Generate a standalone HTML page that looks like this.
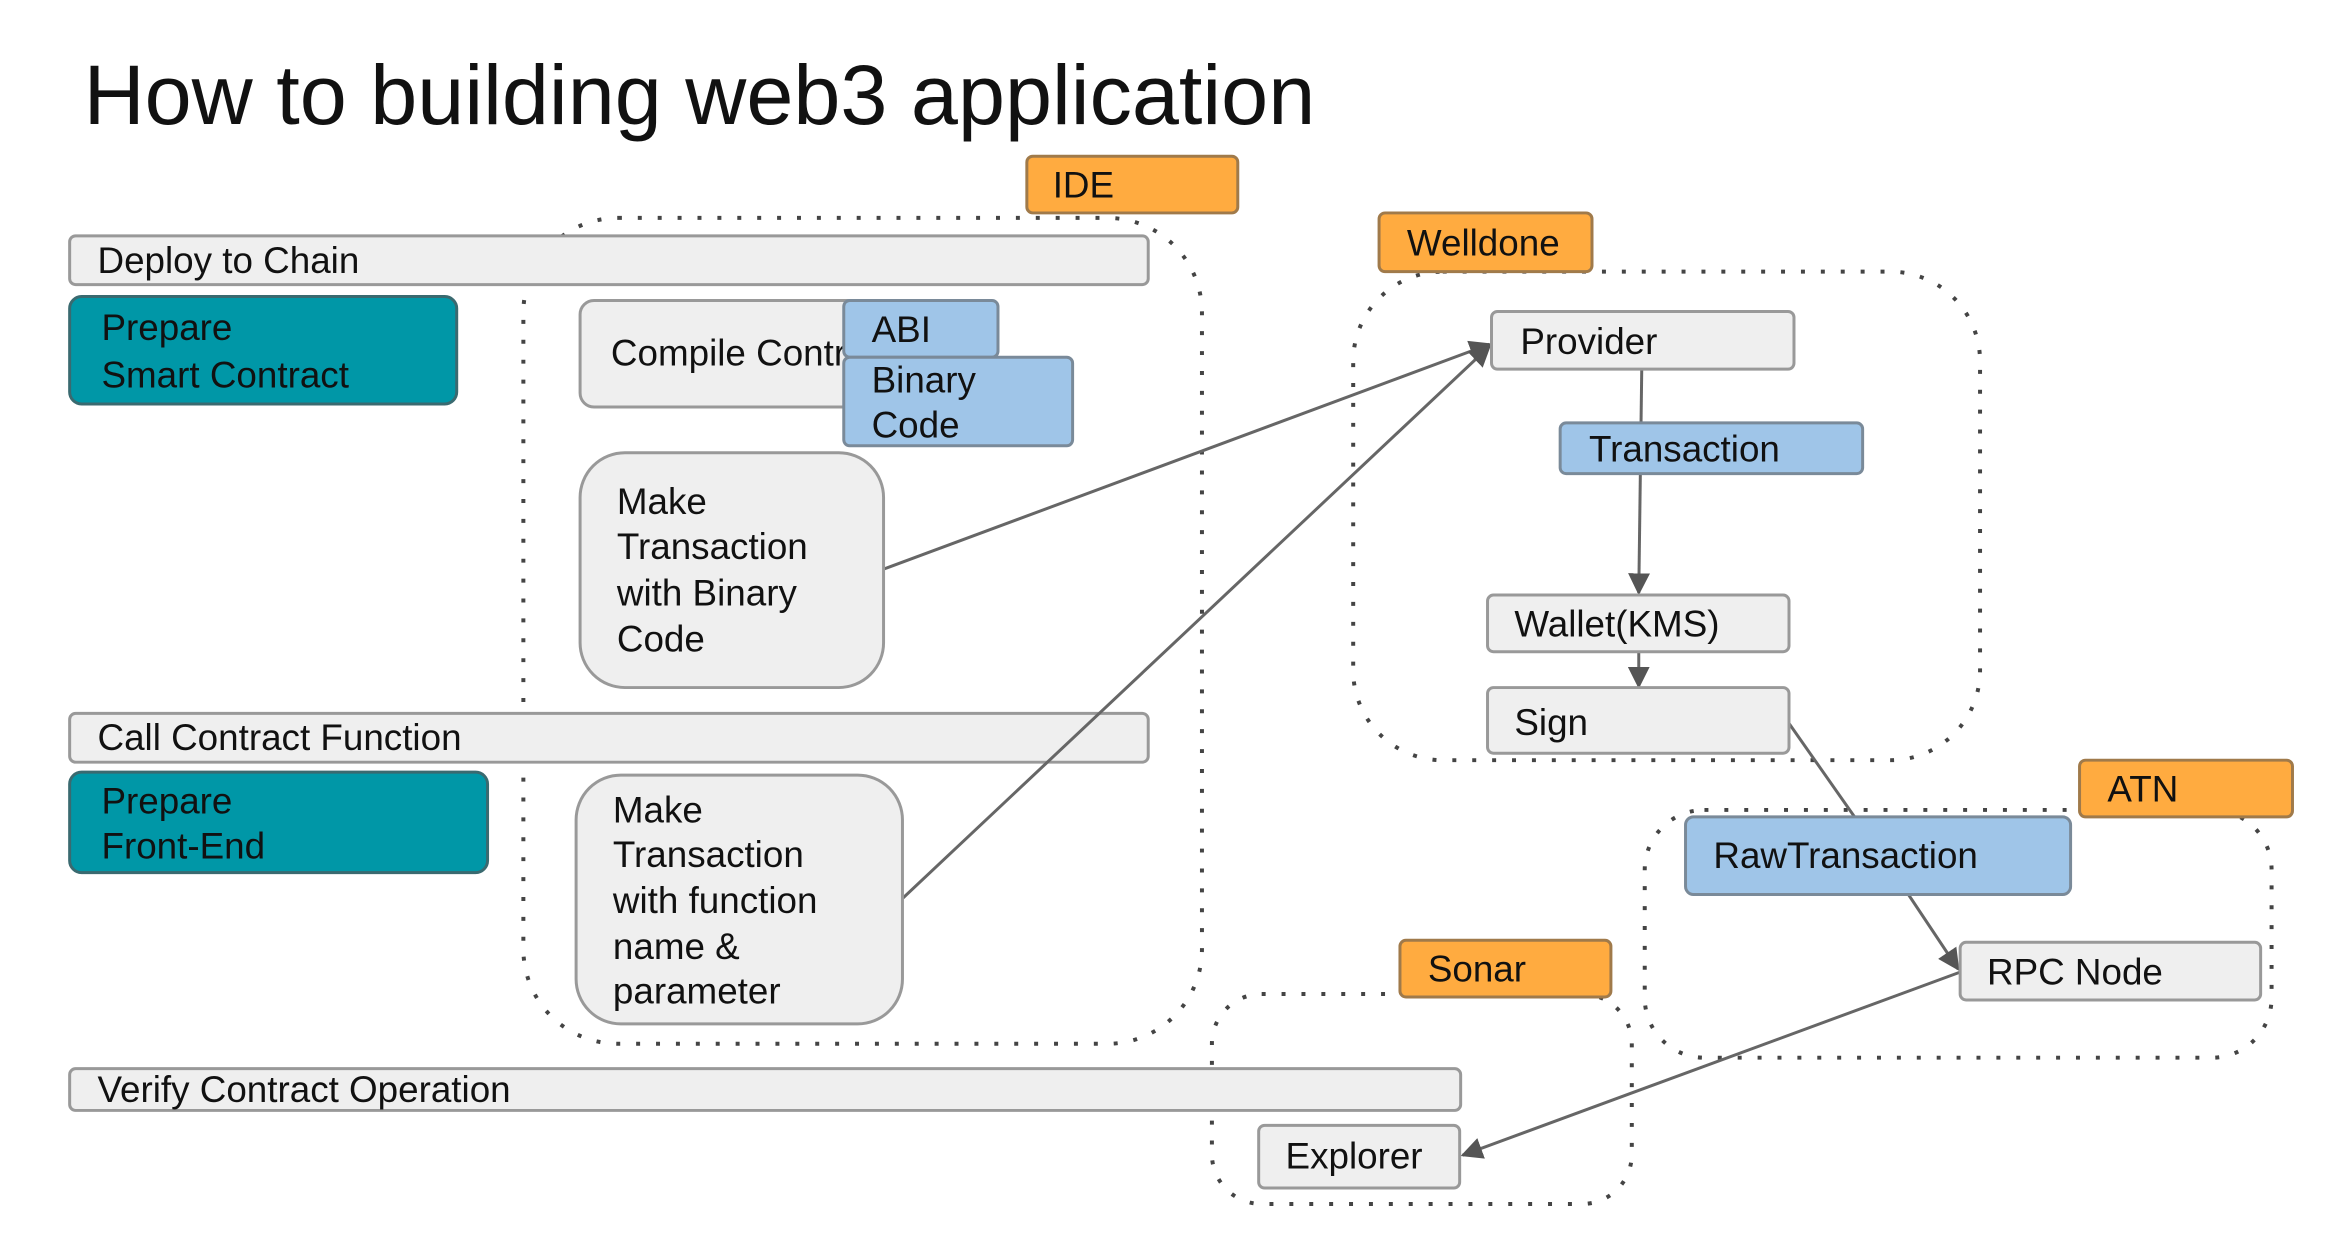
<!DOCTYPE html>
<html><head><meta charset="utf-8"><style>
html,body{margin:0;padding:0;background:#fff;}
svg{display:block;}
text{font-family:"Liberation Sans",sans-serif;font-size:37px;fill:#111;dominant-baseline:central;}
.g{fill:#efefef;stroke:#999;stroke-width:3;}
.b{fill:#9fc5e8;stroke:#7a8a99;stroke-width:3;}
.o{fill:#ffab40;stroke:#a07a4a;stroke-width:3;}
.t{fill:#0097a7;stroke:#3a6a70;stroke-width:3;}
.d{fill:none;stroke:#444;stroke-width:4;stroke-dasharray:4 16;stroke-linecap:butt;}
.l{stroke:#666;stroke-width:3;fill:none;}
</style></head><body>
<svg width="2332" height="1234" viewBox="0 0 2332 1234" xmlns="http://www.w3.org/2000/svg">
<defs>
<marker id="A" viewBox="0 0 10 10" refX="9" refY="5" markerWidth="22" markerHeight="22" orient="auto" markerUnits="userSpaceOnUse"><path d="M0,0 L10,5 L0,10 z" fill="#555"/></marker></defs>
<g transform="translate(0,2) scale(0.995)">
<text x="84" y="93" style="font-size:85px">How to building web3 application</text>

<rect class="d" x="526" y="217" width="682" height="830" rx="95"/>
<rect class="d" x="1360" y="271" width="630" height="491" rx="90"/>
<rect class="d" x="1653" y="812" width="630" height="249" rx="60"/>
<rect class="d" x="1218" y="997" width="422" height="211" rx="50"/>

<line class="l" x1="888" y1="570" x2="1497" y2="344" marker-end="url(#A)"/>
<line class="l" x1="1650" y1="369" x2="1647" y2="594" marker-end="url(#A)"/>
<line class="l" x1="1647" y1="653" x2="1647" y2="688" marker-end="url(#A)"/>
<line class="l" x1="1798" y1="725" x2="1866" y2="822"/>
<line class="l" x1="1918" y1="897" x2="1968" y2="972" marker-end="url(#A)"/>
<line class="l" x1="1970" y1="975" x2="1470" y2="1159" marker-end="url(#A)"/>

<rect class="o" x="1032" y="155" width="212" height="57" rx="6"/><text x="1058" y="184">IDE</text>
<rect class="o" x="1386" y="212" width="214" height="59" rx="6"/><text x="1414" y="242">Welldone</text>
<rect class="o" x="2090" y="762" width="214" height="57" rx="6"/><text x="2118" y="791">ATN</text>
<rect class="o" x="1407" y="943" width="212" height="57" rx="6"/><text x="1435" y="972">Sonar</text>

<rect class="g" x="70" y="235" width="1084" height="49" rx="6"/><text x="98" y="260">Deploy to Chain</text>
<rect class="t" x="70" y="296" width="389" height="108" rx="12"/><text x="102" y="327">Prepare</text><text x="102" y="375">Smart Contract</text>
<rect class="g" x="583" y="300" width="320" height="107" rx="14"/><text x="614" y="353">Compile Contract</text>
<rect class="b" x="848" y="300" width="155" height="57" rx="6"/><text x="876" y="329">ABI</text>
<rect class="b" x="848" y="357" width="230" height="89" rx="6"/><text x="876" y="380">Binary</text><text x="876" y="425">Code</text>
<rect class="g" x="583" y="453" width="305" height="236" rx="45"/>
<text x="620" y="502">Make</text><text x="620" y="547">Transaction</text><text x="620" y="594">with Binary</text><text x="620" y="640">Code</text>
<rect class="g" x="70" y="715" width="1084" height="49" rx="6"/><text x="98" y="739">Call Contract Function</text>
<line class="l" x1="907" y1="901" x2="1497" y2="346" marker-end="url(#A)"/>
<rect class="t" x="70" y="774" width="420" height="101" rx="12"/><text x="102" y="803">Prepare</text><text x="102" y="848">Front-End</text>
<rect class="g" x="579" y="777" width="328" height="250" rx="45"/>
<text x="616" y="812">Make</text><text x="616" y="857">Transaction</text><text x="616" y="903">with function</text><text x="616" y="949">name &amp;</text><text x="616" y="994">parameter</text>
<rect class="g" x="70" y="1072" width="1398" height="42" rx="6"/><text x="98" y="1093">Verify Contract Operation</text>

<rect class="g" x="1499" y="311" width="304" height="58" rx="6"/><text x="1528" y="341">Provider</text>
<rect class="b" x="1568" y="423" width="304" height="51" rx="6"/><text x="1597" y="449">Transaction</text>
<rect class="g" x="1495" y="596" width="303" height="57" rx="6"/><text x="1522" y="625">Wallet(KMS)</text>
<rect class="g" x="1495" y="689" width="303" height="66" rx="6"/><text x="1522" y="724">Sign</text>
<rect class="b" x="1694" y="819" width="387" height="78" rx="8"/><text x="1722" y="858">RawTransaction</text>
<rect class="g" x="1970" y="945" width="302" height="58" rx="6"/><text x="1997" y="975">RPC Node</text>
<rect class="g" x="1265" y="1129" width="202" height="63" rx="6"/><text x="1292" y="1160">Explorer</text>
</g>
</svg>
</body></html>
